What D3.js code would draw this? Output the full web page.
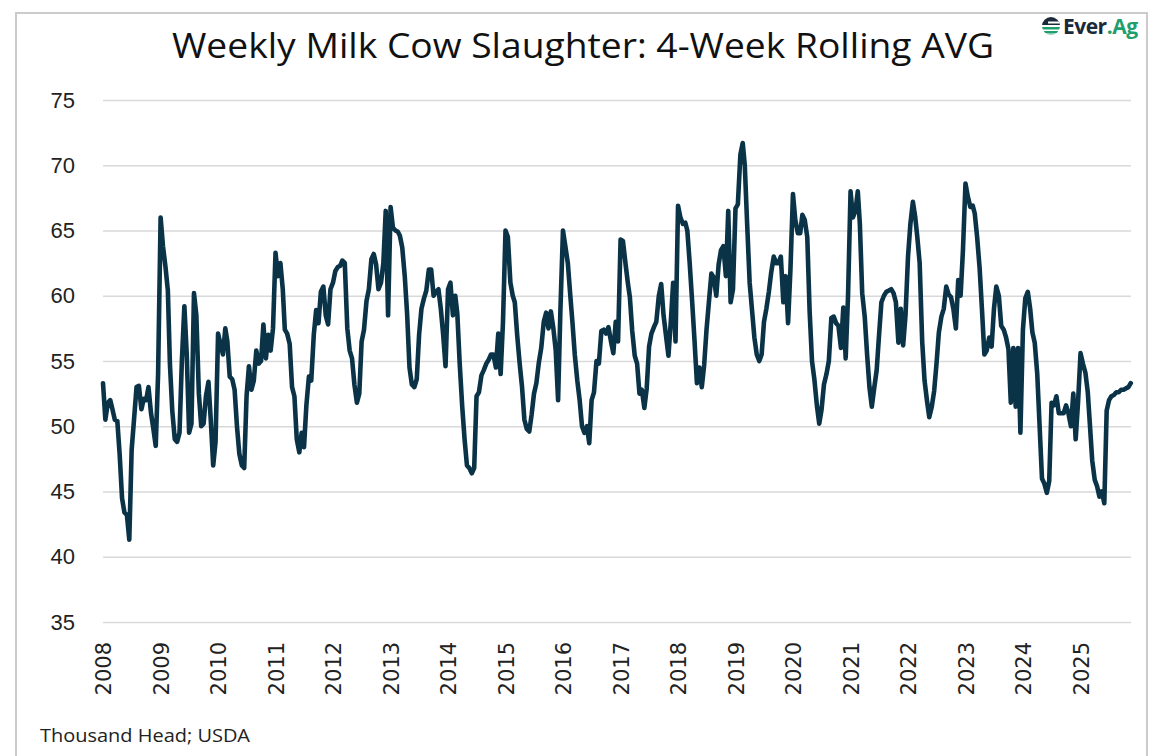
<!DOCTYPE html>
<html>
<head>
<meta charset="utf-8">
<script src="https://cdn.jsdelivr.net/npm/d3@7"></script>
<style>
  body { margin: 0; background: #fff; }
  svg { display: block; }
</style>
</head>
<body>
<div id="wrap"></div>
<script>
// weekly milk cow slaughter, 4-week rolling avg (thousand head), read at ~half-month steps
const years = [2008, 2009, 2010, 2011, 2012, 2013, 2014, 2015, 2016, 2017, 2018, 2019, 2020, 2021, 2022, 2023, 2024, 2025];
const yTicks = [35, 40, 45, 50, 55, 60, 65, 70, 75];

const v2008 = [53.3, 50.5, 51.8, 52.0, 51.3, 50.5, 50.4, 47.8, 44.5, 43.4, 43.2, 41.3, 48.2, 50.5, 53.0, 53.1, 51.3, 52.1, 52.0, 53.0, 51.0, 49.8, 48.5, 54.0];
const v2009 = [66.0, 63.8, 62.2, 60.4, 54.8, 51.2, 49.0, 48.8, 49.5, 55.0, 59.2, 55.5, 49.5, 50.2, 60.2, 58.5, 52.5, 50.0, 50.2, 52.3, 53.4, 50.4, 47.0, 48.8];
const v2010 = [57.1, 56.3, 55.5, 57.5, 56.5, 53.8, 53.6, 52.8, 50.0, 47.9, 47.0, 46.8, 52.3, 54.6, 52.8, 53.5, 55.8, 54.8, 55.0, 57.8, 55.2, 57.0, 55.8, 57.5];
const v2011 = [63.3, 61.5, 62.5, 60.5, 57.4, 57.1, 56.3, 53.0, 52.3, 49.0, 48.0, 49.5, 48.4, 51.6, 53.8, 53.5, 57.0, 58.9, 57.9, 60.3, 60.7, 58.5, 57.8, 60.5];
const v2012 = [61.0, 61.9, 62.2, 62.3, 62.7, 62.5, 57.5, 55.8, 55.2, 53.2, 51.8, 52.5, 56.5, 57.4, 59.6, 60.5, 62.8, 63.2, 62.4, 60.5, 61.0, 62.5, 66.5, 58.5];
const v2013 = [66.8, 65.2, 65.0, 64.9, 64.6, 63.7, 61.5, 58.6, 54.5, 53.2, 53.0, 53.6, 57.0, 59.0, 59.8, 60.4, 62.0, 62.0, 60.0, 60.3, 60.5, 59.0, 57.0, 54.6];
const v2014 = [60.5, 61.0, 58.5, 60.0, 58.6, 54.8, 51.5, 49.0, 47.0, 46.8, 46.4, 46.8, 52.3, 52.6, 53.9, 54.3, 54.8, 55.1, 55.5, 55.5, 54.5, 57.1, 54.0, 58.0];
const v2015 = [65.0, 64.5, 61.0, 60.0, 59.5, 57.0, 54.8, 53.0, 50.5, 49.8, 49.6, 50.9, 52.5, 53.3, 54.9, 56.0, 58.0, 58.7, 57.5, 58.8, 57.5, 55.8, 52.0, 59.0];
const v2016 = [65.0, 63.8, 62.5, 60.1, 58.0, 55.5, 53.5, 52.0, 50.0, 49.5, 50.0, 48.7, 52.0, 52.6, 55.0, 54.8, 57.3, 57.4, 57.1, 57.6, 56.5, 55.6, 58.0, 56.5];
const v2017 = [64.3, 64.2, 62.5, 61.0, 59.9, 57.3, 55.4, 54.8, 52.5, 52.8, 51.4, 52.9, 56.1, 57.1, 57.6, 58.0, 60.0, 60.9, 58.5, 57.0, 55.4, 58.0, 61.0, 56.5];
const v2018 = [66.9, 66.0, 65.5, 65.6, 65.0, 62.5, 59.5, 56.5, 53.3, 54.5, 53.0, 54.7, 57.4, 59.5, 61.7, 61.4, 60.0, 62.4, 63.5, 63.8, 61.5, 66.5, 59.5, 60.5];
const v2019 = [66.7, 67.0, 70.8, 71.7, 70.0, 65.5, 61.0, 58.9, 56.8, 55.5, 55.0, 55.5, 58.0, 59.0, 60.3, 61.8, 63.0, 62.5, 62.5, 63.0, 59.5, 61.5, 57.9, 62.0];
const v2020 = [67.8, 65.8, 64.8, 64.8, 66.2, 65.8, 64.5, 58.8, 55.0, 53.6, 51.6, 50.2, 51.3, 53.2, 54.0, 55.0, 58.3, 58.4, 57.9, 57.7, 56.0, 59.1, 55.2, 60.0];
const v2021 = [68.0, 66.0, 66.5, 68.0, 65.5, 60.2, 58.4, 55.5, 53.0, 51.5, 53.0, 54.3, 57.0, 59.5, 60.0, 60.3, 60.4, 60.5, 60.2, 59.5, 56.4, 59.0, 56.2, 58.5];
const v2022 = [63.0, 65.5, 67.2, 66.0, 64.5, 62.5, 56.5, 53.5, 52.0, 50.7, 51.5, 52.7, 54.8, 57.2, 58.4, 59.0, 60.7, 60.1, 59.9, 59.0, 57.5, 61.2, 60.0, 63.5];
const v2023 = [68.6, 67.6, 66.8, 66.9, 66.3, 64.5, 62.1, 58.9, 55.5, 55.8, 56.8, 56.1, 59.0, 60.7, 60.0, 57.7, 57.4, 56.8, 55.9, 51.8, 56.0, 51.5, 56.0, 49.5];
const v2024 = [57.4, 59.8, 60.3, 59.0, 57.2, 56.4, 54.0, 50.0, 46.0, 45.6, 44.9, 45.8, 51.8, 51.6, 52.3, 51.0, 51.0, 51.0, 51.6, 51.0, 50.0, 52.5, 49.0, 51.8];
const v2025 = [55.6, 54.8, 54.1, 52.6, 50.2, 47.4, 45.9, 45.4, 44.6, 45.0, 44.1, 51.2, 52.0, 52.3, 52.4, 52.6, 52.6, 52.8, 52.8, 52.9, 53.0, 53.3];

const byYear = [v2008, v2009, v2010, v2011, v2012, v2013, v2014, v2015, v2016, v2017,
                v2018, v2019, v2020, v2021, v2022, v2023, v2024, v2025];

// half-month points: 1st and 16th of each month
const data = [];
byYear.forEach((vals, i) => {
    vals.forEach((v, k) => {
        data.push({ date: new Date(years[i], Math.floor(k / 2), k % 2 ? 16 : 1), value: v });
    });
});

const width = 1158;
const height = 756;
const plot = { left: 103, right: 1131, top: 100, bottom: 622 };

const x = d3.scaleTime()
    .domain([new Date(2008, 0, 1), new Date(2026, 0, 1)])
    .range([plot.left, plot.left + 18 * 57.5]);

const y = d3.scaleLinear()
    .domain([35, 75])
    .range([plot.bottom, plot.top]);

const svg = d3.select("#wrap").append("svg")
    .attr("width", width)
    .attr("height", height);

// frame
svg.append("rect")
    .attr("x", 16).attr("y", 13)
    .attr("width", 1131).attr("height", 780)
    .attr("fill", "#fff")
    .attr("stroke", "#cbcbcb")
    .attr("stroke-width", 2);

// title
svg.append("text")
    .attr("x", 583)
    .attr("y", 58)
    .attr("text-anchor", "middle")
    .attr("font-family", "'Open Sans', sans-serif")
    .attr("font-size", 34)
    .attr("textLength", 822)
    .attr("lengthAdjust", "spacingAndGlyphs")
    .attr("fill", "#111")
    .text("Weekly Milk Cow Slaughter: 4-Week Rolling AVG");

// y axis with gridlines
const yAxis = d3.axisLeft(y)
    .tickValues(yTicks)
    .tickSizeInner(-(plot.right - plot.left))
    .tickSizeOuter(0)
    .tickPadding(28);

const gy = svg.append("g")
    .attr("transform", `translate(${plot.left},0)`)
    .call(yAxis);
gy.select(".domain").remove();
gy.selectAll(".tick line")
    .attr("stroke", "#d9d9d9")
    .attr("stroke-width", 1.5);
gy.selectAll(".tick text")
    .attr("font-family", "'Liberation Sans', Arial, sans-serif")
    .attr("font-size", 22)
    .attr("fill", "#222");

// x axis, rotated year labels
const xAxis = d3.axisBottom(x)
    .tickValues(years.map(yr => new Date(yr, 0, 1)))
    .tickSize(0)
    .tickFormat(d3.timeFormat("%Y"));

const gx = svg.append("g")
    .attr("transform", `translate(0,${plot.bottom})`)
    .call(xAxis);
gx.select(".domain").remove();
gx.selectAll(".tick text")
    .attr("font-family", "'DejaVu Sans', sans-serif")
    .attr("font-size", 21)
    .attr("fill", "#222")
    .attr("text-anchor", "end")
    .attr("y", 0)
    .attr("dy", "0.36em")
    .attr("transform", "translate(0,20) rotate(-90)");

// the series
const line = d3.line()
    .x(d => x(d.date))
    .y(d => y(d.value));

svg.append("path")
    .datum(data)
    .attr("fill", "none")
    .attr("stroke", "#0b3348")
    .attr("stroke-width", 4.6)
    .attr("stroke-linejoin", "round")
    .attr("stroke-linecap", "round")
    .attr("d", line);

// source note
svg.append("text")
    .attr("x", 40)
    .attr("y", 742)
    .attr("font-family", "'Open Sans', sans-serif")
    .attr("font-size", 19)
    .attr("textLength", 210)
    .attr("lengthAdjust", "spacingAndGlyphs")
    .attr("fill", "#222")
    .text("Thousand Head; USDA");

// logo
const logo = svg.append("g").attr("transform", "translate(1051,26)");
logo.append("clipPath").attr("id", "lc")
    .append("circle").attr("r", 9);
const lg = logo.append("g").attr("clip-path", "url(#lc)");
lg.append("rect").attr("x", -10).attr("y", -10).attr("width", 20).attr("height", 9).attr("fill", "#1b2a3a");
lg.append("rect").attr("x", -3).attr("y", -4.5).attr("width", 13).attr("height", 2).attr("fill", "#fff");
lg.append("rect").attr("x", -10).attr("y", 1).attr("width", 20).attr("height", 2.5).attr("fill", "#1f9e6e");
lg.append("rect").attr("x", -10).attr("y", 5).attr("width", 20).attr("height", 2.5).attr("fill", "#1f9e6e");
lg.append("rect").attr("x", -10).attr("y", 8.5).attr("width", 20).attr("height", 2).attr("fill", "#1f9e6e");

const lt = svg.append("text")
    .attr("x", 1063)
    .attr("y", 34)
    .attr("font-family", "'Open Sans', sans-serif")
    .attr("font-weight", 700)
    .attr("font-size", 21)
    .attr("letter-spacing", -0.5);
lt.append("tspan").attr("fill", "#1b2a3a").text("Ever");
lt.append("tspan").attr("fill", "#1f9e6e").text(".Ag");
</script>
</body>
</html>
